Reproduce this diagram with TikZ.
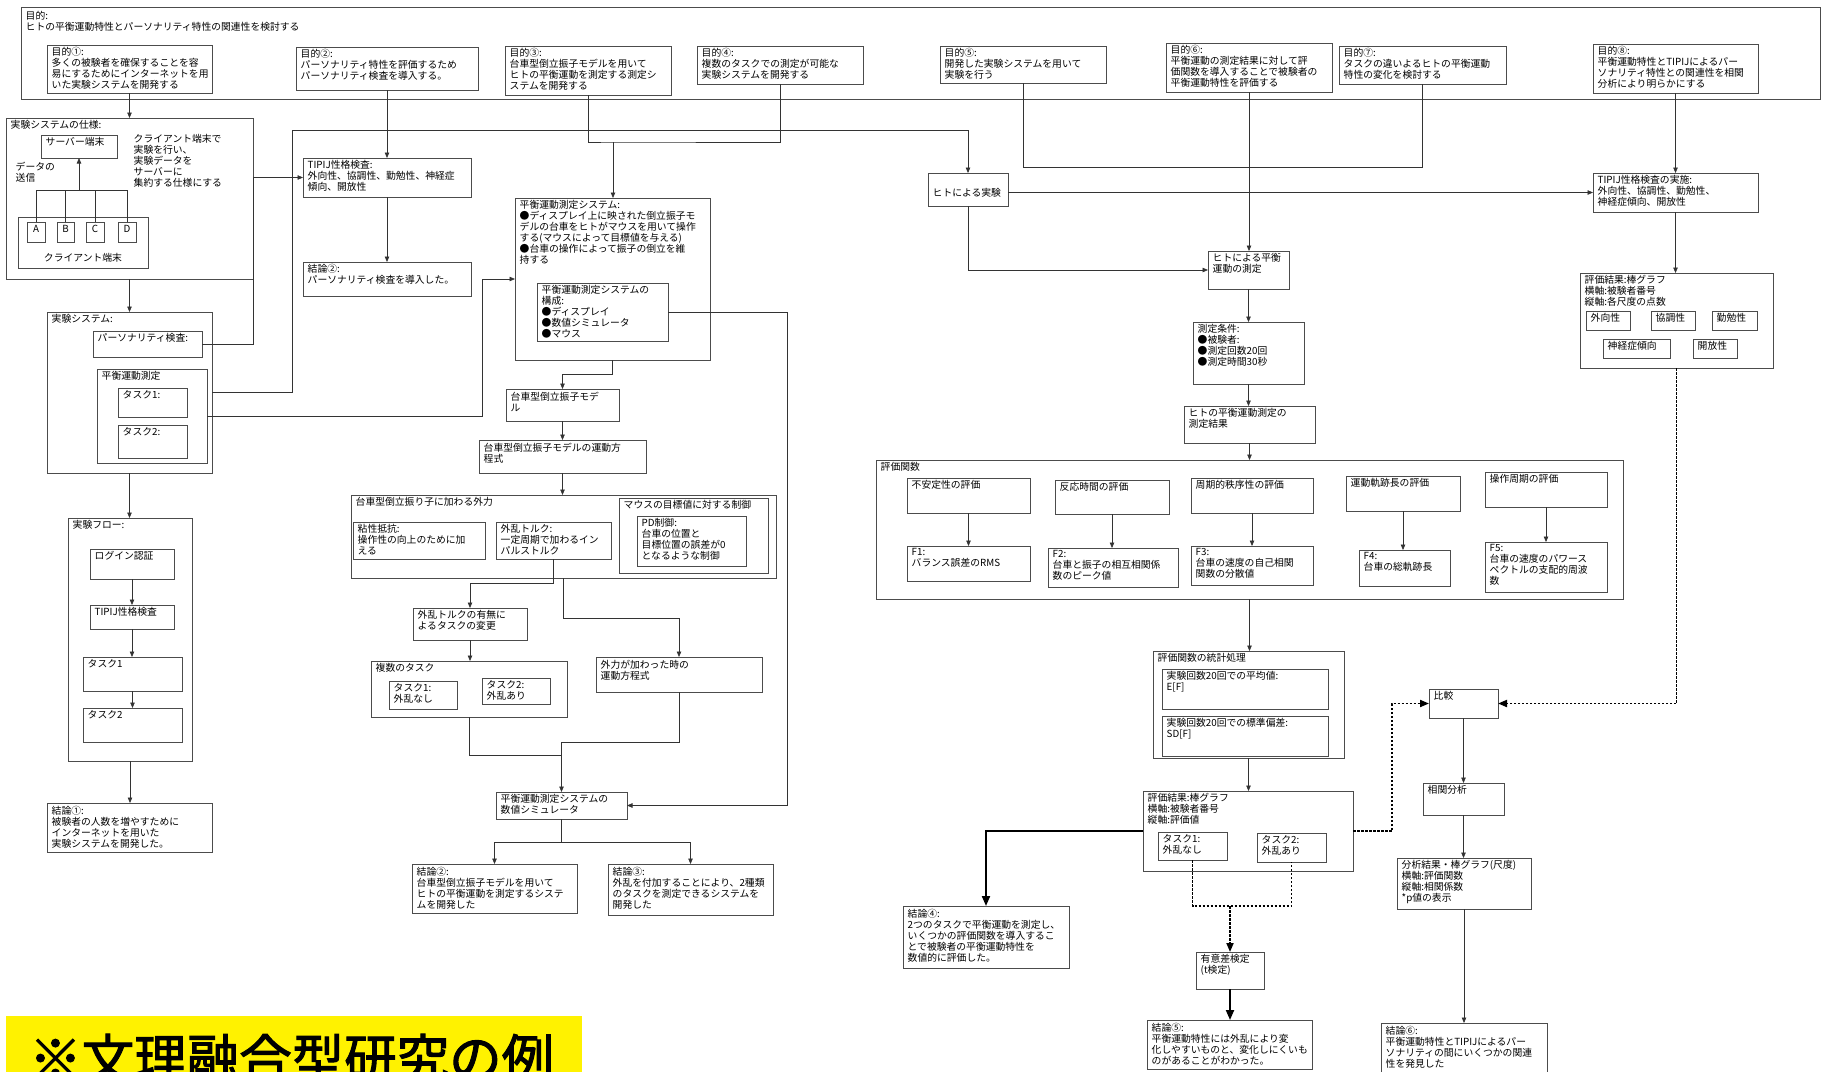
\documentclass[tikz,border=0pt]{standalone}
\usepackage{fontspec}
\setmainfont{Noto Sans CJK JP}
\newfontfamily\titlefont{Noto Sans CJK JP}[FakeBold=2]
\usetikzlibrary{arrows.meta}

\tikzset{
  boxst/.style={draw=black!70, line width=0.6pt, inner sep=0pt, outer sep=0pt},
  txtst/.style={inner xsep=4.5pt, inner ysep=2.5pt, align=left,
    font=\fontsize{9.8}{11}\selectfont, text=black},
  conn/.style={draw=black!80, line width=0.7pt},
  arr/.style={conn, -{Triangle[length=5.5pt,width=4.5pt]}},
  bold arr/.style={draw=black, line width=2pt, -{Triangle[length=10pt,width=8pt]}},
  dotline/.style={draw=black, line width=1.9pt, dash pattern=on 2.5pt off 1.5pt},
  dotarr/.style={dotline, -{Triangle[length=9pt,width=7pt]}},
}

% box from (x1,y1) to (x2,y2) with its text set at the upper left corner
\newcommand\mybox[6]{%
  \node[boxst, anchor=north west, minimum width={#4pt-#2pt}, minimum height={#5pt-#3pt}] (#1) at (#2,#3) {};
  \node[txtst, anchor=north west] (#1-t) at (#1.north west) {#6};
}
% small box with a centred letter
\newcommand\letterbox[6]{%
  \node[boxst, anchor=north west, minimum width={#4pt-#2pt}, minimum height={#5pt-#3pt}] (#1) at (#2,#3) {};
  \node[txtst, anchor=north, inner ysep=3pt] (#1-t) at (#1.north) {#6};
}

\begin{document}
\begin{tikzpicture}[x=1pt,y=-1pt]
\useasboundingbox (0,0) rectangle (1825,1071);
\fill[white] (0,0) rectangle (1825,1071);

% ---------- purposes ----------
\node[boxst, anchor=north west, minimum width=1799pt, minimum height=92pt] (top) at (21,7) {};
\node[txtst, anchor=north west] (top-t) at (21,9) {目的:\\ヒトの平衡運動特性とパーソナリティ特性の関連性を検討する};

\mybox{m1}{47}{45}{212}{93}{目的①:\\多くの被験者を確保することを容\\易にするためにインターネットを用\\いた実験システムを開発する}
\mybox{m2}{296}{47}{478}{90}{目的②:\\パーソナリティ特性を評価するため\\パーソナリティ検査を導入する。}
\mybox{m3}{505}{46}{671}{95}{目的③:\\台車型倒立振子モデルを用いて\\ヒトの平衡運動を測定する測定シ\\ステムを開発する}
\mybox{m4}{697}{46}{863}{84}{目的④:\\複数のタスクでの測定が可能な\\実験システムを開発する}
\mybox{m5}{940}{46}{1106}{83}{目的⑤:\\開発した実験システムを用いて\\実験を行う}
\mybox{m6}{1166}{43}{1332}{92}{目的⑥:\\平衡運動の測定結果に対して評\\価関数を導入することで被験者の\\平衡運動特性を評価する}
\mybox{m7}{1339}{46}{1506}{84}{目的⑦:\\タスクの違いよるヒトの平衡運動\\特性の変化を検討する}
\mybox{m8}{1593}{44}{1758}{93}{目的⑧:\\平衡運動特性とTIPIJによるパー\\ソナリティ特性との関連性を相関\\分析により明らかにする}

% ---------- experiment system (left column) ----------
\mybox{spec}{6}{118}{253}{279}{実験システムの仕様:}
\mybox{srv}{41}{135}{117}{158}{サーバー端末}
\node[txtst, anchor=north west] (send) at (11,159) {データの\\送信};
\node[txtst, anchor=north west] (note) at (129,132) {クライアント端末で\\実験を行い、\\実験データを\\サーバーに\\集約する仕様にする};
\node[boxst, anchor=north west, minimum width=130pt, minimum height=51pt] (client) at (18,217) {};
\node[txtst] (client-t) at (83,258) {クライアント端末};
\letterbox{bA}{27}{222}{45}{242}{A}
\letterbox{bB}{57}{222}{74}{242}{B}
\letterbox{bC}{86}{222}{104}{242}{C}
\letterbox{bD}{118}{222}{136}{242}{D}

\mybox{sys}{47}{312}{212}{473}{実験システム:}
\mybox{pers}{93}{331}{202}{357}{パーソナリティ検査:}
\mybox{hk}{97}{369}{207}{463}{平衡運動測定}
\mybox{ht1}{118}{388}{187}{417}{タスク1:}
\mybox{ht2}{118}{425}{187}{458}{タスク2:}

\mybox{flow}{68}{518}{192}{761}{実験フロー:}
\mybox{login}{90}{549}{174}{579}{ログイン認証}
\mybox{tipf}{90}{605}{174}{629}{TIPIJ性格検査}
\mybox{ft1}{83}{657}{182}{691}{タスク1}
\mybox{ft2}{83}{708}{182}{742}{タスク2}
\mybox{c1}{47}{803}{212}{852}{結論①:\\被験者の人数を増やすために\\インターネットを用いた\\実験システムを開発した。}

\mybox{tipi}{303}{158}{471}{197}{TIPIJ性格検査:\\外向性、協調性、勤勉性、神経症\\傾向、開放性}
\mybox{cP}{303}{262}{471}{296}{結論②:\\パーソナリティ検査を導入した。}

% ---------- balance measurement system (middle column) ----------
\mybox{bms}{515}{198}{710}{360}{平衡運動測定システム:\\●ディスプレイ上に映された倒立振子モ\\デルの台車をヒトがマウスを用いて操作\\する(マウスによって目標値を与える)\\●台車の操作によって振子の倒立を維\\持する}
\mybox{comp}{537}{283}{668}{341}{平衡運動測定システムの\\構成:\\●ディスプレイ\\●数値シミュレータ\\●マウス}
\mybox{model}{506}{389}{619}{421}{台車型倒立振子モデ\\ル}
\mybox{eq}{479}{440}{646}{473}{台車型倒立振子モデルの運動方\\程式}
\mybox{force}{351}{495}{776}{578}{台車型倒立振り子に加わる外力}
\mybox{visc}{353}{522}{485}{559}{粘性抵抗:\\操作性の向上のために加\\える}
\mybox{dist}{496}{522}{611}{559}{外乱トルク:\\一定周期で加わるイン\\パルストルク}
\mybox{mouse}{619}{498}{768}{573}{マウスの目標値に対する制御}
\mybox{pd}{637}{516}{746}{566}{PD制御:\\台車の位置と\\目標位置の誤差が0\\となるような制御}
\mybox{change}{413}{608}{527}{640}{外乱トルクの有無に\\よるタスクの変更}
\mybox{tasks}{371}{661}{567}{717}{複数のタスク}
\mybox{tk1}{389}{681}{457}{709}{タスク1:\\外乱なし}
\mybox{tk2}{482}{678}{550}{704}{タスク2:\\外乱あり}
\mybox{ext}{596}{657}{762}{692}{外力が加わった時の\\運動方程式}
\mybox{sim}{496}{792}{627}{819}{平衡運動測定システムの\\数値シミュレータ}
\mybox{c2}{412}{864}{577}{913}{結論②:\\台車型倒立振子モデルを用いて\\ヒトの平衡運動を測定するシステ\\ムを開発した}
\mybox{c3}{608}{864}{773}{915}{結論③:\\外乱を付加することにより、2種類\\のタスクを測定できるシステムを\\開発した}

% ---------- experiments with people (right part) ----------
\node[boxst, anchor=north west, minimum width=80pt, minimum height=33pt] (hexp) at (928,173) {};
\node[txtst, anchor=west] (hexp-t) at ([yshift=-3pt]hexp.west) {ヒトによる実験};
\mybox{hbal}{1208}{251}{1289}{289}{ヒトによる平衡\\運動の測定}
\mybox{cond}{1193}{322}{1304}{384}{測定条件:\\●被験者:\\●測定回数20回\\●測定時間30秒}
\mybox{mres}{1184}{406}{1315}{443}{ヒトの平衡運動測定の\\測定結果}
\mybox{evalf}{876}{460}{1623}{599}{評価関数}
\mybox{e1}{907}{478}{1030}{513}{不安定性の評価}
\mybox{e2}{1055}{480}{1169}{514}{反応時間の評価}
\mybox{e3}{1191}{478}{1313}{513}{周期的秩序性の評価}
\mybox{e4}{1346}{476}{1460}{511}{運動軌跡長の評価}
\mybox{e5}{1485}{472}{1607}{507}{操作周期の評価}
\mybox{f1}{907}{546}{1030}{581}{F1:\\バランス誤差のRMS}
\mybox{f2}{1048}{548}{1178}{587}{F2:\\台車と振子の相互相関係\\数のピーク値}
\mybox{f3}{1191}{546}{1313}{585}{F3:\\台車の速度の自己相関\\関数の分散値}
\mybox{f4}{1359}{550}{1450}{586}{F4:\\台車の総軌跡長}
\mybox{f5}{1485}{542}{1607}{592}{F5:\\台車の速度のパワース\\ペクトルの支配的周波\\数}
\mybox{stat}{1153}{651}{1344}{758}{評価関数の統計処理}
\mybox{avg}{1162}{669}{1328}{709}{実験回数20回での平均値:\\E[F]}
\mybox{sd}{1162}{716}{1328}{756}{実験回数20回での標準偏差:\\SD[F]}
\mybox{res}{1143}{791}{1353}{871}{評価結果:棒グラフ\\横軸:被験者番号\\縦軸:評価値}
\mybox{t1}{1158}{832}{1227}{860}{タスク1:\\外乱なし}
\mybox{t2}{1257}{833}{1326}{862}{タスク2:\\外乱あり}
\mybox{c4}{903}{906}{1069}{968}{結論④:\\2つのタスクで平衡運動を測定し、\\いくつかの評価関数を導入するこ\\とで被験者の平衡運動特性を\\数値的に評価した。}
\mybox{sig}{1196}{952}{1264}{989}{有意差検定\\(t検定)}
\mybox{c5}{1147}{1020}{1312}{1069}{結論⑤:\\平衡運動特性には外乱により変\\化しやすいものと、変化しにくいも\\のがあることがわかった。}

\mybox{tipi8}{1593}{173}{1758}{212}{TIPIJ性格検査の実施:\\外向性、協調性、勤勉性、\\神経症傾向、開放性}
\mybox{res8}{1580}{273}{1773}{368}{評価結果:棒グラフ\\横軸:被験者番号\\縦軸:各尺度の点数}
\mybox{p1}{1586}{311}{1630}{330}{外向性}
\mybox{p2}{1651}{311}{1695}{330}{協調性}
\mybox{p3}{1712}{311}{1757}{330}{勤勉性}
\mybox{p4}{1603}{339}{1670}{358}{神経症傾向}
\mybox{p5}{1693}{339}{1737}{358}{開放性}
\mybox{cmp}{1429}{689}{1498}{718}{比較}
\mybox{corr}{1423}{783}{1504}{815}{相関分析}
\mybox{ana}{1397}{858}{1531}{909}{分析結果・棒グラフ(尺度)\\横軸:評価関数\\縦軸:相関係数\\*p値の表示}
\mybox{c6}{1381}{1023}{1547}{1075}{結論⑥:\\平衡運動特性とTIPIJによるパー\\ソナリティの間にいくつかの関連\\性を発見した}

% ---------- connectors: left ----------
\coordinate (busA) at (292,130);
\coordinate (cB) at (482,0);
\coordinate (cC) at (787,0);
\coordinate (cD) at (0,755);
\coordinate (cH) at (0,190);
\coordinate (j34) at (613,142);

\draw[arr] (m1.south) -- (m1.south |- spec.north);
\draw[conn] (bA.north) |- (bD.north |- cH) -- (bD.north);
\draw[conn] (bB.north) -- (bB.north |- cH);
\draw[conn] (bC.north) -- (bC.north |- cH);
\draw[arr] (srv.south |- cH) -- (srv.south);
\draw[arr] (spec.south) -- (spec.south |- sys.north);
\draw[arr] (sys.south) -- (sys.south |- flow.north);
\draw[arr] (login.south) -- (login.south |- tipf.north);
\draw[arr] (tipf.south) -- (tipf.south |- ft1.north);
\draw[arr] (ft1.south) -- (ft1.south |- ft2.north);
\draw[arr] (flow.south) -- (flow.south |- c1.north);
\draw[arr] (m2.south) -- (m2.south |- tipi.north);
\draw[arr] (tipi.south) -- (tipi.south |- cP.north);
\draw[arr] (pers.east) -| (tipi.west -| spec.east) -- (tipi.west);
\draw[arr] (sys.east) -| (busA) -| (hexp.north);
\draw[arr] (hk.east) -| (bms.west -| cB) -- (bms.west);

% ---------- connectors: middle ----------
\draw[conn] (m3.south) |- (j34) -| (m4.south);
\draw[arr] (j34) -- (j34 |- bms.north);
\draw[arr] (bms.south) -- ++(0,14) -| (model.north);
\draw[arr] (model.south) -- (model.south |- eq.north);
\draw[arr] (eq.south) -- (eq.south |- force.north);
\draw[arr] (comp.east) -| (sim.east -| cC) -- (sim.east);
\draw[arr] (dist.south) -- ++(0,24) -| (change.north);
\draw[arr] (force.south) -- ++(0,40) -| (ext.north);
\draw[arr] (change.south) -- (change.south |- tasks.north);
\draw[conn] (tasks.south) |- (sim.north |- cD);
\draw[arr] (ext.south) -- ++(0,50) -| (sim.north);
\draw[arr] (sim.south) -- ++(0,23) -| (c2.north);
\draw[arr] (sim.south) -- ++(0,23) -| (c3.north);

% ---------- connectors: right ----------
\coordinate (cF) at (0,906);
\coordinate (cG) at (1392,0);
\draw[conn] (m5.south) -- ++(0,84) -| (m7.south);
\draw[arr] (m6.south) -- (m6.south |- hbal.north);
\draw[arr] (tipi8.west -| hexp.east) -- (tipi8.west);
\draw[arr] (hexp.south) |- (hbal.west);
\draw[arr] (m8.south) -- (m8.south |- tipi8.north);
\draw[arr] (tipi8.south) -- (tipi8.south |- res8.north);
\draw[arr] (hbal.south) -- (hbal.south |- cond.north);
\draw[arr] (cond.south) -- (cond.south |- mres.north);
\draw[arr] (mres.south) -- (mres.south |- evalf.north);
\draw[arr] (e1.south) -- (e1.south |- f1.north);
\draw[arr] (e2.south) -- (e2.south |- f2.north);
\draw[arr] (e3.south) -- (e3.south |- f3.north);
\draw[arr] (e4.south) -- (e4.south |- f4.north);
\draw[arr] (e5.south) -- (e5.south |- f5.north);
\draw[arr] (evalf.south) -- (evalf.south |- stat.north);
\draw[arr] (stat.south) -- (stat.south |- res.north);
\draw[bold arr] (res.west) -| (c4.north);
\draw[dotline] (t1.south) -- ++(0,46) -| (t2.south);
\draw[dotarr] (sig.north |- cF) -- (sig.north);
\draw[bold arr] (sig.south) -- (sig.south |- c5.north);
\draw[dotarr] (res.east) -| (cmp.west -| cG) -- (cmp.west);
\draw[dotarr] (res8.south) |- (cmp.east);
\draw[arr] (cmp.south) -- (cmp.south |- corr.north);
\draw[arr] (corr.south) -- (corr.south |- ana.north);
\draw[arr] (ana.south) -- (ana.south |- c6.north);

% ---------- banner ----------
\begin{scope}
  \clip (0,0) rectangle (1825,1071);
  \fill[yellow] (6,1016) rectangle (582,1085);
  \node[anchor=base west, inner sep=0pt, font=\titlefont\fontsize{52.5}{52.5}\selectfont] (banner) at (29,1078) {※文理融合型研究の例};
\end{scope}
\end{tikzpicture}
\end{document}
